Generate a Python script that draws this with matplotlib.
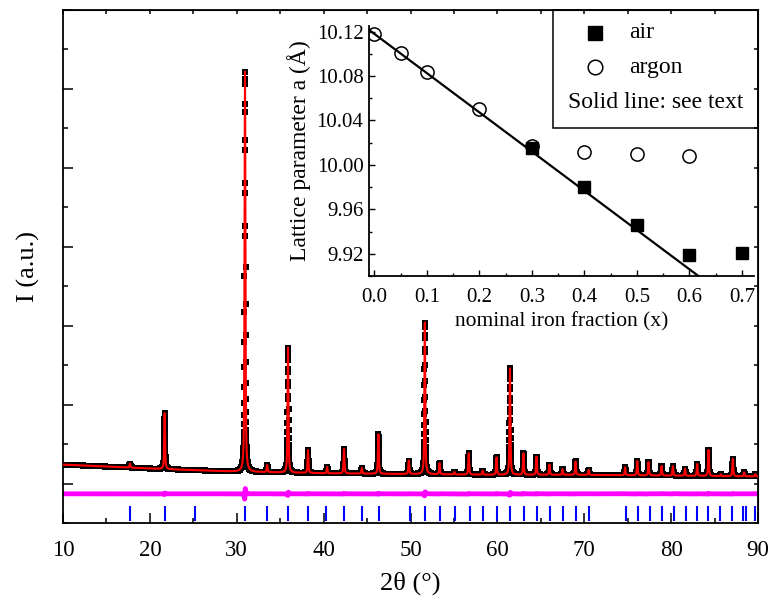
import numpy as np
import matplotlib
matplotlib.use('Agg')
import matplotlib.pyplot as plt
from matplotlib.patches import Rectangle
from matplotlib.lines import Line2D
from matplotlib.ticker import MultipleLocator, FixedLocator, FormatStrFormatter

plt.rcParams['font.family'] = ['Liberation Serif', 'DejaVu Serif']

# reflections: position (deg) and height above background (a.u.)
peak_pos = [17.7, 21.7, 30.95, 33.5, 35.9, 38.2, 40.4, 42.35, 44.4, 46.3,
            49.8, 51.65, 53.35, 55.05, 56.7, 58.3, 59.9, 61.45, 63.0, 64.5,
            66.0, 67.5, 69.0, 70.5, 74.7, 76.1, 77.4, 78.9, 80.2, 81.6,
            83.0, 84.3, 85.7, 87.1, 88.4, 89.7]
peak_h = [0.05, 0.71, 5.07, 0.09, 1.58, 0.29, 0.08, 0.31, 0.07, 0.50,
          0.17, 1.92, 0.14, 0.03, 0.27, 0.05, 0.22, 1.35, 0.27, 0.23,
          0.13, 0.07, 0.17, 0.06, 0.10, 0.18, 0.17, 0.12, 0.12, 0.09,
          0.15, 0.33, 0.02, 0.22, 0.05, 0.03]

# background level
bg_angle = [10, 20, 30, 40, 50, 60, 70, 80, 90]
bg_level = [0.24, 0.19, 0.15, 0.13, 0.12, 0.11, 0.11, 0.10, 0.09]

# Bragg positions (blue ticks)
bragg_pos = [17.76, 21.72, 25.2, 30.98, 33.5, 35.9, 38.2, 40.3, 42.4, 44.4,
             46.4, 49.9, 51.7, 53.4, 55.1, 56.8, 58.4, 60.0, 61.5, 63.1,
             64.6, 66.1, 67.6, 69.1, 70.5, 74.8, 76.2, 77.55, 79.0, 80.3,
             81.7, 83.0, 84.3, 85.65, 87.0, 88.3, 88.6, 89.6]

# inset data
air_x = [0.3, 0.4, 0.5, 0.6, 0.7]
air_a = [10.015, 9.980, 9.946, 9.919, 9.921]
argon_x = [0.0, 0.05, 0.1, 0.2, 0.3, 0.4, 0.5, 0.6]
argon_a = [10.118, 10.1005, 10.0835, 10.050, 10.017, 10.012, 10.010, 10.008]
fit_x = [-0.01, 0.62]
fit_a = [10.1215, 9.899]

fwhm = 0.12
eta = 0.6
obs_shift = 0.0012
diff_offset = -0.13


def pv(x, x0, h, w):
    g = np.exp(-4 * np.log(2) * ((x - x0) / w) ** 2)
    l = 1.0 / (1 + 4 * ((x - x0) / w) ** 2)
    return h * (eta * l + (1 - eta) * g)


tt = np.arange(10, 90.0001, 0.01)
bg = np.interp(tt, bg_angle, bg_level)
calc = bg.copy()
obs = bg.copy()
for p, h in zip(peak_pos, peak_h):
    calc += pv(tt, p, h, fwhm)
    obs += pv(tt, p + obs_shift, h, fwhm)
diff = obs - calc + diff_offset

fig = plt.figure(figsize=(7.72, 6.01), dpi=100)
ax = fig.add_axes([63 / 772, 1 - 523 / 601, (758 - 63) / 772, (523 - 10) / 601])

ax.plot(tt, obs, 's', color='black', ms=5, mew=0, zorder=2)
ax.plot(tt, calc, '-', color='red', lw=1.5, zorder=3)
ax.plot(tt, diff, '-', color='#ff00ff', lw=3.5, zorder=2)
ax.vlines(bragg_pos, -0.47, -0.28, colors='blue', lw=1.5, zorder=2)

ax.set_xlim(10, 90)
ax.set_ylim(-0.5, 6.0)
ax.xaxis.set_major_locator(MultipleLocator(10))
ax.xaxis.set_minor_locator(MultipleLocator(5))
ax.yaxis.set_major_locator(MultipleLocator(1))
ax.yaxis.set_minor_locator(MultipleLocator(0.5))
ax.tick_params(which='major', direction='in', length=7, width=1.1, labelsize=16.5, pad=12, labelleft=False)
ax.tick_params(which='minor', direction='in', length=3.5, width=1.1)
for s in ax.spines.values():
    s.set_linewidth(1.3)
ax.set_xlabel('2θ (°)', fontsize=19, labelpad=8)
ax.set_ylabel('I (a.u.)', fontsize=19, labelpad=13)

topx = ax.secondary_xaxis('top')
topx.xaxis.set_major_locator(MultipleLocator(10))
topx.xaxis.set_minor_locator(MultipleLocator(5))
topx.tick_params(which='both', direction='in', length=3, width=1.1, labeltop=False)
righty = ax.secondary_yaxis('right')
righty.yaxis.set_major_locator(MultipleLocator(1))
righty.yaxis.set_minor_locator(MultipleLocator(0.5))
righty.tick_params(which='both', direction='in', length=3, width=1.1, labelright=False)

# inset
ins = fig.add_axes([369 / 772, 1 - 276 / 601, (754 - 369) / 772, (276 - 26) / 601])
ins.patch.set_alpha(0)
ins.plot(fit_x, fit_a, '-', color='black', lw=1.6, zorder=2)
ins.plot(air_x, air_a, 's', color='black', ms=8.5, zorder=3)
ins.plot(argon_x, argon_a, 'o', mfc='none', mec='black', mew=1.1, ms=9.5, zorder=3)
ins.set_xlim(-0.01, 0.723)
ins.set_ylim(9.90, 10.125)
ins.spines['top'].set_visible(False)
ins.spines['right'].set_visible(False)
for s in ['left', 'bottom']:
    ins.spines[s].set_linewidth(1.3)
ins.xaxis.set_major_locator(MultipleLocator(0.1))
ins.xaxis.set_minor_locator(MultipleLocator(0.05))
ins.yaxis.set_major_locator(FixedLocator([9.92, 9.96, 10.00, 10.04, 10.08, 10.12]))
ins.yaxis.set_minor_locator(MultipleLocator(0.02))
ins.xaxis.set_major_formatter(FormatStrFormatter('%.1f'))
ins.yaxis.set_major_formatter(FormatStrFormatter('%.2f'))
ins.tick_params(which='major', direction='in', length=4, width=1, labelsize=15)
ins.tick_params(axis='x', which='major', pad=9)
ins.tick_params(axis='y', which='major', pad=4)
ins.tick_params(which='minor', direction='in', length=2.5, width=1)
ins.set_xlabel('nominal iron fraction (x)', fontsize=15.5, labelpad=3)
ins.set_ylabel('Lattice parameter a (Å)', fontsize=17, labelpad=4)

# legend box
fig.patches.append(Rectangle((553 / 772, 1 - 128 / 601), (758 - 553) / 772, (128 - 10) / 601,
                             transform=fig.transFigure, fill=False, edgecolor='black', lw=1.1, zorder=5))
fig.lines.append(Line2D([595 / 772], [1 - 33 / 601], marker='s', color='black', ms=9.5,
                        transform=fig.transFigure))
fig.lines.append(Line2D([595 / 772], [1 - 67 / 601], marker='o', mfc='none', mec='black', mew=1.1,
                        ms=10.5, transform=fig.transFigure))
fig.text(629 / 772, 1 - 33 / 601, 'air', fontsize=17, va='center', ha='left')
fig.text(629 / 772, 1 - 67 / 601, 'argon', fontsize=17, va='center', ha='left')
fig.text(656 / 772, 1 - 103 / 601, 'Solid line: see text', fontsize=17, va='center', ha='center')

fig.savefig('out.png', dpi=100)
